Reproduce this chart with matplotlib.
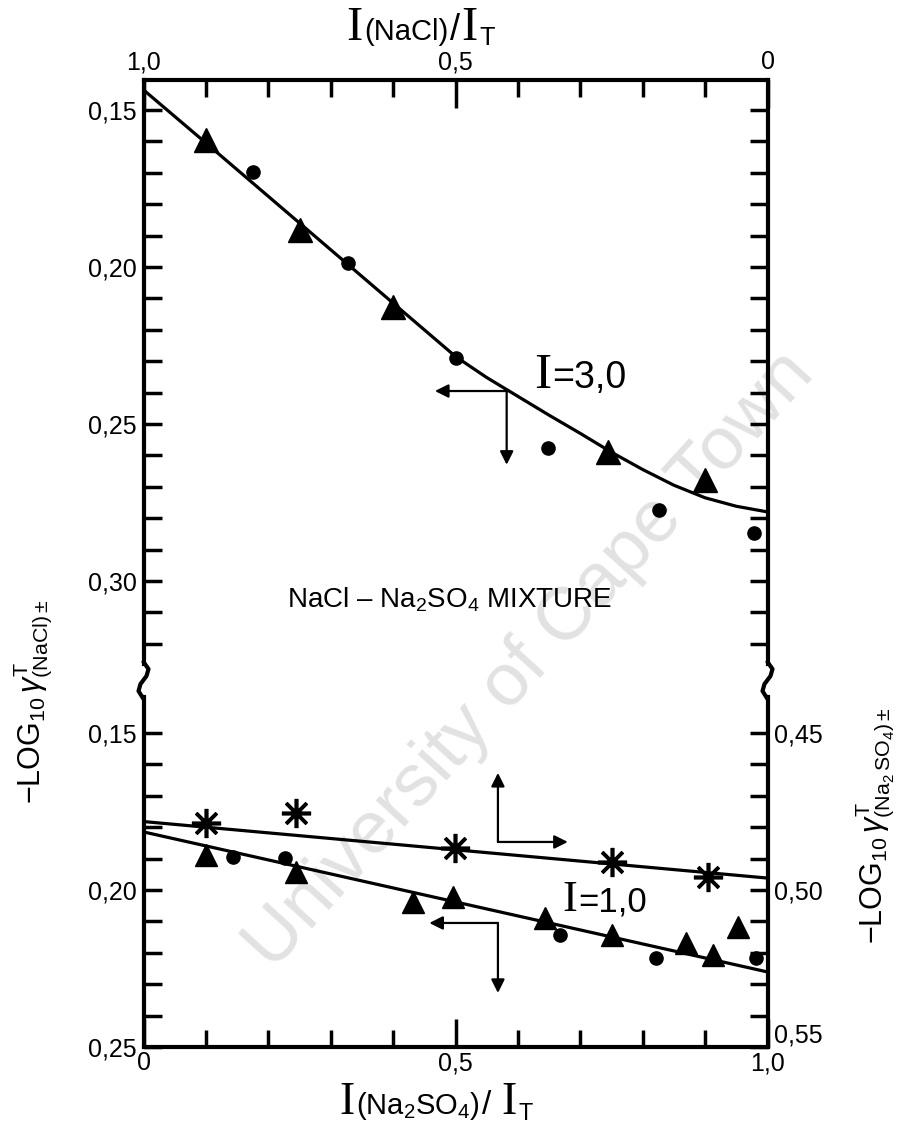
import numpy as np
import matplotlib
matplotlib.use("Agg")
import matplotlib.pyplot as plt
from matplotlib.lines import Line2D
from matplotlib.offsetbox import TextArea, HPacker, AnnotationBbox

plt.rcParams['font.family'] = ['Liberation Sans', 'DejaVu Sans']
plt.rcParams['mathtext.fontset'] = 'custom'
plt.rcParams['mathtext.rm'] = 'Liberation Sans'
plt.rcParams['mathtext.it'] = 'Liberation Sans:italic'
plt.rcParams['mathtext.sf'] = 'Liberation Sans'

# I = 3,0 : -log gamma(NaCl), upper part of left axis
x3_tri = [0.10, 0.25, 0.40, 0.745, 0.90]
y3_tri = [0.1596, 0.1882, 0.2127, 0.2590, 0.2678]
x3_dot = [0.176, 0.328, 0.50, 0.648, 0.826, 0.978]
y3_dot = [0.1697, 0.1987, 0.2290, 0.2576, 0.2774, 0.2847]
x3_fit = [0.0, 0.1, 0.2, 0.3, 0.4, 0.5, 0.55, 0.6, 0.65, 0.7, 0.75, 0.8, 0.85, 0.9, 0.95, 1.0]
y3_fit = [0.1436, 0.1605, 0.1775, 0.1945, 0.2115, 0.2285, 0.2352, 0.2412, 0.2472,
          0.2530, 0.2590, 0.2645, 0.2695, 0.2735, 0.2762, 0.2780]

# I = 1,0 : -log gamma(NaCl), lower part of left axis
x1_tri = [0.10, 0.245, 0.432, 0.496, 0.643, 0.75, 0.87, 0.912, 0.952]
y1_tri = [0.1889, 0.1943, 0.2038, 0.2022, 0.2089, 0.2143, 0.2169, 0.2207, 0.2118]
x1_dot = [0.144, 0.227, 0.667, 0.822, 0.982]
y1_dot = [0.1895, 0.1898, 0.2143, 0.2217, 0.2217]
x1_fit = [0.0, 1.0]
y1_fit = [0.1815, 0.2261]

# I = 1,0 : -log gamma(Na2SO4), right axis
x1_star = [0.10, 0.245, 0.499, 0.75, 0.904]
y1_star = [0.4787, 0.4755, 0.4866, 0.4911, 0.4958]
x1s_fit = [0.0, 1.0]
y1s_fit = [0.4782, 0.4962]

xticks = [0.0, 0.5, 1.0]
xlabels_bot = ['0', '0,5', '1,0']
xlabels_top = ['1,0', '0,5', '0']
yticks_top = [0.15, 0.20, 0.25, 0.30]
ylabels_top = ['0,15', '0,20', '0,25', '0,30']
yticks_bot = [0.15, 0.20, 0.25]
ylabels_bot = ['0,15', '0,20', '0,25']
yticks_right = [0.45, 0.50, 0.55]
ylabels_right = ['0,45', '0,50', '0,55']

W, H = 901, 1135
fig = plt.figure(figsize=(W / 100, H / 100), dpi=100)
fig.patch.set_facecolor('white')


def px(x, y):
    return x / W, 1 - y / H


L, R = 143.5, 767.5
ax_top = fig.add_axes([L / W, 1 - 680 / H, (R - L) / W, 600 / H])
ax_bot = fig.add_axes([L / W, 1 - 1047 / H, (R - L) / W, 367 / H])
ax_r = ax_bot.twinx()

# watermark of the scan, kept behind everything
fig.text(0.588, 0.4185, 'University of Cape Town', rotation=47.7, size=54,
         color='#e2e2e2', ha='center', va='center', zorder=-5)

for a in (ax_top, ax_bot, ax_r):
    a.set_facecolor('none')
    a.set_xlim(0, 1)
    for s in a.spines.values():
        s.set_linewidth(3)

ax_top.set_ylim(0.33153, 0.14045)
ax_bot.set_ylim(0.25, 0.13312)
ax_r.set_ylim(0.55, 0.43312)

ax_top.spines['bottom'].set_visible(False)
ax_bot.spines['top'].set_visible(False)
for s in ('top', 'bottom', 'left'):
    ax_r.spines[s].set_visible(False)
ax_r.spines['right'].set_bounds(0.4385, 0.55)
ax_top.spines['left'].set_bounds(0.14045, 0.3265)
ax_top.spines['right'].set_bounds(0.14045, 0.3265)
ax_bot.spines['left'].set_bounds(0.1385, 0.25)
ax_bot.spines['right'].set_visible(False)

# upper panel
ax_top.plot(x3_fit, y3_fit, color='k', lw=2.3, zorder=3)
ax_top.plot(x3_tri, y3_tri, ls='none', marker='^', ms=17, color='k', zorder=4)
ax_top.plot(x3_dot, y3_dot, ls='none', marker='o', ms=9.5, color='k', zorder=4)

# lower panel
ax_bot.plot(x1_fit, y1_fit, color='k', lw=2.3, zorder=3)
ax_bot.plot(x1_tri, y1_tri, ls='none', marker='^', ms=16, color='k', zorder=4)
ax_bot.plot(x1_dot, y1_dot, ls='none', marker='o', ms=9.5, color='k', zorder=4)
ax_r.plot(x1s_fit, y1s_fit, color='k', lw=2.3, zorder=3)
ax_r.plot(x1_star, y1_star, ls='none', marker=(8, 2, 0), ms=21, mew=2.6,
          color='k', zorder=4)

# ticks
tk = dict(direction='in', color='k', width=2.5, labelsize=18)
ax_top.set_yticks(yticks_top, ylabels_top)
ax_top.set_yticks(np.round(np.arange(0.15, 0.325, 0.01), 2), minor=True)
ax_top.tick_params(axis='y', which='both', left=True, right=True,
                   labelright=False, length=13, pad=5, **tk)
ax_top.xaxis.tick_top()
ax_top.set_xticks(xticks, xlabels_top)
ax_top.set_xticks(np.round(np.arange(0.1, 1.0, 0.1), 1), minor=True)
ax_top.tick_params(axis='x', which='major', length=20, pad=4, **tk)
ax_top.tick_params(axis='x', which='minor', length=12, **tk)

ax_bot.set_yticks(yticks_bot, ylabels_bot)
ax_bot.set_yticks(np.round(np.arange(0.15, 0.255, 0.01), 2), minor=True)
ax_bot.tick_params(axis='y', which='both', left=True, right=False,
                   length=13, pad=5, **tk)
ax_bot.set_xticks(xticks, xlabels_bot)
ax_bot.set_xticks(np.round(np.arange(0.1, 1.0, 0.1), 1), minor=True)
ax_bot.tick_params(axis='x', which='major', length=20, pad=3, **tk)
ax_bot.tick_params(axis='x', which='minor', length=12, **tk)

ax_r.set_yticks(yticks_right, ylabels_right)
ax_r.set_yticks(np.round(np.arange(0.45, 0.555, 0.01), 2), minor=True)
ax_r.tick_params(axis='y', which='both', length=13, pad=5, **tk)
# the last right label sits a little higher, clear of the "1,0"
ax_r.yaxis.get_major_ticks()[-1].label2.set_va('bottom')

# spine breaks
for xs in (L, R):
    pts = [(xs, 662), (xs + 5, 669), (xs + 3, 676), (xs - 3, 684), (xs - 5, 691), (xs, 699)]
    fx, fy = zip(*[px(a, b) for a, b in pts])
    fig.add_artist(Line2D(fx, fy, transform=fig.transFigure, lw=3, color='k',
                          solid_capstyle='round'))


def label_box(parts, xy, coords, ax=None):
    boxes = []
    for txt, fam, size in parts:
        boxes.append(TextArea(txt, textprops=dict(family=fam, size=size, color='k')))
    pack = HPacker(children=boxes, align='baseline', pad=0, sep=1)
    ab = AnnotationBbox(pack, xy, xycoords=coords, frameon=False,
                        box_alignment=(0.5, 0.5), pad=0, zorder=6)
    (ax or fig).add_artist(ab)


SERIF = 'Liberation Serif'
SANS = 'Liberation Sans'
label_box([('I', SERIF, 35), ('(NaCl)', SANS, 21), ('/', SANS, 26), ('I', SERIF, 35),
           (r'$_{\mathrm{T}}$', SANS, 26)], px(421, 28), 'figure fraction')
label_box([('I', SERIF, 33), (r'(Na$_2$SO$_4$)', SANS, 21), ('/ ', SANS, 24), ('I', SERIF, 33),
           (r'$_{\mathrm{T}}$', SANS, 24)], px(437, 1103), 'figure fraction')

label_box([('I', SERIF, 37), ('=3,0', SANS, 27)], (0.70, 0.2347), 'data', ax_top)
label_box([('I', SERIF, 32), ('=1,0', SANS, 25)], (0.739, 0.2032), 'data', ax_bot)

ax_top.text(0.49, 0.306, r'NaCl – Na$_2$SO$_4$ MIXTURE', ha='center', va='center',
            size=20, zorder=6)

fig.text(0.0366, 0.3815, r'$-$LOG$_{10}\,\gamma^{\mathrm{T}}_{(\mathrm{NaCl})\pm}$',
         rotation=90, ha='center', va='center', size=22)
fig.text(0.971, 0.273, r'$-$LOG$_{10}\,\gamma^{\mathrm{T}}_{(\mathrm{Na_2\,SO_4})\pm}$',
         rotation=90, ha='center', va='center', size=22)

# direction arrows (which axis each curve belongs to)
arw = dict(arrowstyle='-|>', lw=1.6, color='k', mutation_scale=20, shrinkA=0, shrinkB=0)
ax_top.annotate('', xy=(0.467, 0.2395), xytext=(0.582, 0.2395), arrowprops=arw)
ax_top.annotate('', xy=(0.582, 0.263), xytext=(0.582, 0.2395), arrowprops=arw)
ax_bot.annotate('', xy=(0.458, 0.2105), xytext=(0.568, 0.2105), arrowprops=arw)
ax_bot.annotate('', xy=(0.568, 0.2328), xytext=(0.568, 0.2105), arrowprops=arw)
ax_bot.annotate('', xy=(0.568, 0.1627), xytext=(0.568, 0.1847), arrowprops=arw)
ax_bot.annotate('', xy=(0.68, 0.1847), xytext=(0.568, 0.1847), arrowprops=arw)

fig.savefig('out.png', dpi=100)
